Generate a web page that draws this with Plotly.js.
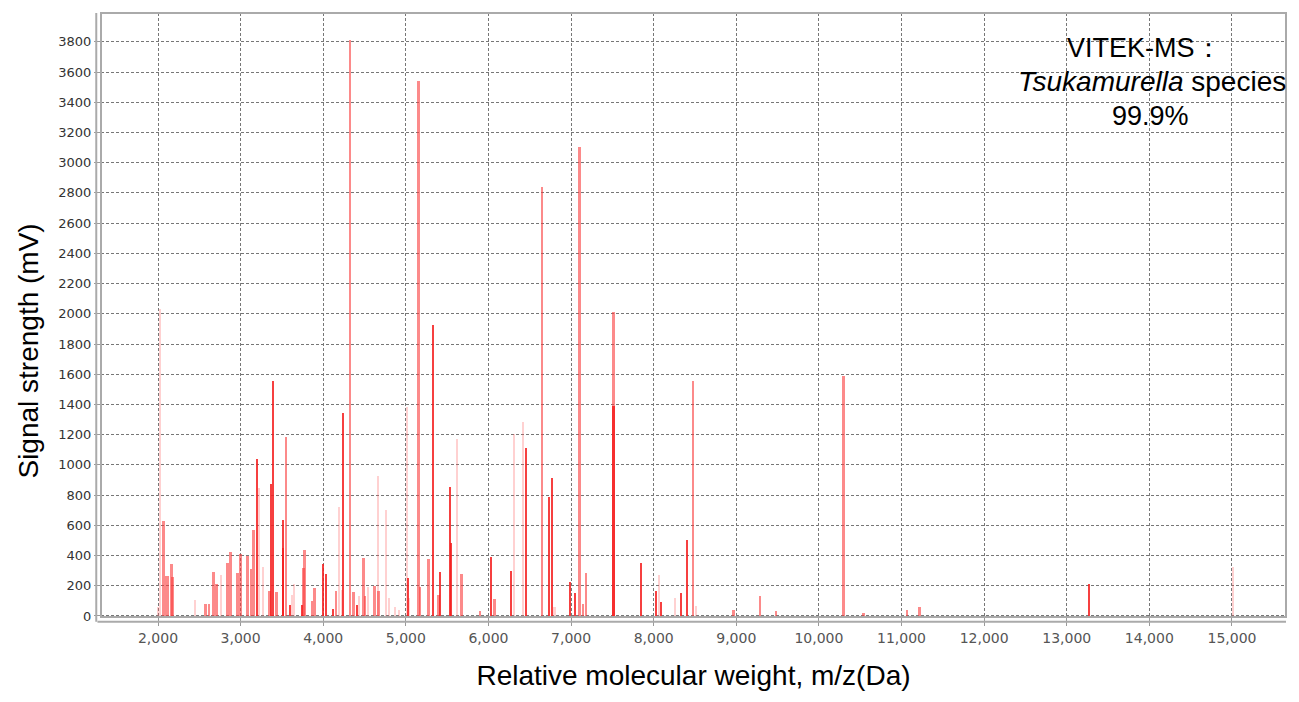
<!DOCTYPE html>
<html>
<head>
<meta charset="utf-8">
<script src="https://cdn.plot.ly/plotly-3.0.1.min.js"></script>
<style>html,body{margin:0;padding:0;background:#fff;}#chart{width:1299px;height:702px;}</style>
</head>
<body>
<div id="chart"></div>
<script>
// Peak m/z (Da) and signal strength (mV), grouped by drawn intensity tone
const lightMz  = [1995, 2024, 2448, 2759, 3226, 3267, 3618, 3646, 4195, 4230, 4433, 4547, 4660, 4760, 4800, 4869, 4921, 5011, 5042, 5624, 6310, 6414, 6800, 8068, 8257, 8513, 15008];
const lightVal = [60, 2030, 106, 269, 849, 326, 139, 212, 719, 170, 132, 190, 929, 701, 117, 62, 40, 1385, 117, 1169, 1202, 1286, 60, 271, 117, 66, 322];

const midMz  = [2064, 2097, 2121, 2165, 2178, 2577, 2617, 2670, 2710, 2840, 2876, 2961, 3001, 3082, 3126, 3154, 3347, 3436, 3550, 3760, 3771, 3861, 3893, 4155, 4324, 4365, 4486, 4506, 4620, 4668, 5151, 5172, 5272, 5394, 5676, 5898, 6071, 6646, 7101, 7142, 7182, 7513, 8477, 8964, 9286, 9479, 10297, 10539, 11064, 11218];
const midVal = [631, 265, 265, 342, 256, 79, 79, 293, 212, 353, 426, 282, 410, 397, 309, 569, 168, 161, 1187, 316, 437, 101, 183, 168, 3810, 161, 382, 132, 200, 168, 3543, 190, 375, 139, 278, 35, 110, 2841, 3106, 79, 287, 2014, 1557, 40, 132, 35, 1588, 18, 40, 60];

const strongMz  = [3194, 3368, 3388, 3509, 3517, 3598, 3740, 4001, 4030, 4114, 4243, 4412, 5022, 5333, 5414, 5535, 5543, 6031, 6274, 6455, 6735, 6772, 6988, 7052, 7513, 7844, 8025, 8088, 8331, 8404, 13271];
const strongVal = [1039, 871, 1557, 452, 635, 73, 73, 342, 276, 44, 1341, 73, 249, 1926, 293, 852, 485, 388, 300, 1114, 790, 915, 227, 150, 1390, 353, 168, 90, 154, 503, 210];

const yTicks = [0,200,400,600,800,1000,1200,1400,1600,1800,2000,2200,2400,2600,2800,3000,3200,3400,3600,3800];
const xTicks = [2000,3000,4000,5000,6000,7000,8000,9000,10000,11000,12000,13000,14000,15000];

const cLight = 'rgba(255,90,90,0.28)';
const cMid = 'rgba(250,60,60,0.6)';
const cStrong = 'rgba(245,30,30,0.85)';

const traces = [
  {type:'bar', x: lightMz, y: lightVal, width: 26, marker:{color: cLight, line:{width:0, color: cLight}}, hoverinfo:'x+y'},
  {type:'bar', x: midMz, y: midVal, width: 30, marker:{color: cMid, line:{width:0, color: cMid}}, hoverinfo:'x+y'},
  {type:'bar', x: strongMz, y: strongVal, width: 26, marker:{color: cStrong, line:{width:0, color: cStrong}}, hoverinfo:'x+y'}
];

const layout = {
  width: 1299, height: 702,
  margin: {l: 101, r: 13, t: 13, b: 85},
  paper_bgcolor: '#fff', plot_bgcolor: '#fff',
  showlegend: false,
  barmode: 'overlay',
  bargap: 0,
  xaxis: {
    range: [1310, 15654],
    tickvals: xTicks,
    tickformat: ',d',
    showgrid: true, gridcolor: '#777', griddash: '3px,2px', gridwidth: 1,
    zeroline: false, showline: false,
    ticks: 'outside', ticklen: 8, tickcolor: '#999',
    tickfont: {family: 'DejaVu Sans', size: 14, color: '#555'},
    title: {text: 'Relative molecular weight, m/z(Da)', font: {family: 'Liberation Sans, Arial', size: 28, color: '#000'}, standoff: 20}
  },
  yaxis: {
    range: [-7, 3991],
    tickvals: yTicks,
    showgrid: true, gridcolor: '#777', griddash: '3px,2px', gridwidth: 1,
    zeroline: false, showline: false,
    ticks: 'outside', ticklen: 6, tickcolor: '#999',
    tickfont: {family: 'DejaVu Sans', size: 13, color: '#333'}
  },
  shapes: [
    {type:'rect', xref:'paper', yref:'paper', x0:0, x1:1, y0:0, y1:1, line:{color:'#aaa', width:2}},
    {type:'line', xref:'paper', yref:'paper', x0:-0.003, x1:1, y0:-0.008, y1:-0.008, line:{color:'#aaa', width:2}},
    {type:'line', xref:'paper', yref:'paper', x0:-0.004, x1:-0.004, y0:-0.008, y1:1, line:{color:'#aaa', width:2}}
  ],
  annotations: [
    {xref:'paper', yref:'paper', x:-0.062, y:(617-351)/604, text:'Signal strength (mV)', textangle:-90, showarrow:false, xanchor:'center', yanchor:'middle', font:{family:'Liberation Sans, Arial', size:28, color:'#000'}},
    {xref:'paper', yref:'paper', x:(1144-101)/1185, y:(617-48)/604, text:'VITEK-MS：', showarrow:false, xanchor:'center', yanchor:'middle', font:{family:'Liberation Sans, Arial', size:27, color:'#000'}},
    {xref:'paper', yref:'paper', x:(1152-101)/1185, y:(617-82)/604, text:'<i>Tsukamurella</i> species', showarrow:false, xanchor:'center', yanchor:'middle', font:{family:'Liberation Sans, Arial', size:28, color:'#000'}},
    {xref:'paper', yref:'paper', x:(1150-101)/1185, y:(617-116)/604, text:'99.9%', showarrow:false, xanchor:'center', yanchor:'middle', font:{family:'Liberation Sans, Arial', size:27, color:'#000'}}
  ]
};

Plotly.newPlot('chart', traces, layout, {displayModeBar: false, staticPlot: true});
</script>
</body>
</html>
